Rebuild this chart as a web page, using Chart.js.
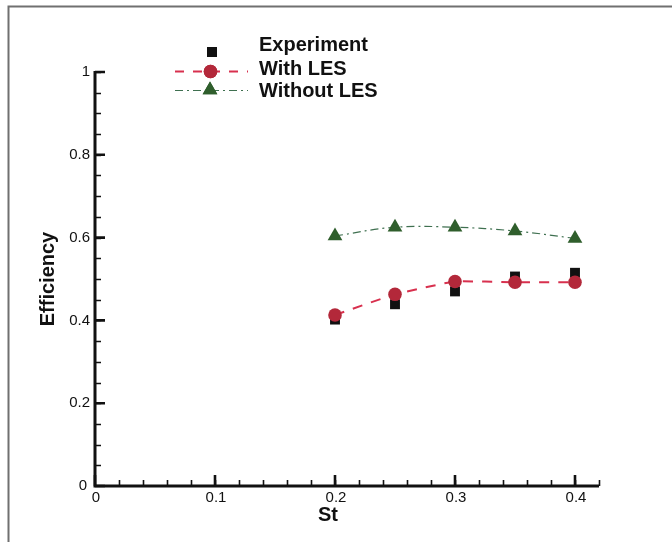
<!DOCTYPE html>
<html lang="en">
<head>
    <meta charset="UTF-8">
    <title>Efficiency vs St</title>
    <script src="https://cdn.jsdelivr.net/npm/chart.js"></script>
    <style>
        html, body { margin: 0; padding: 0; background: #fff; }
        #wrap { width: 672px; height: 542px; }
    </style>
</head>
<body>
    <div id="wrap"><canvas id="effChart" width="672" height="542"></canvas></div>
    <script>
        // Strouhal numbers and efficiency values
        const stValues = [0.2, 0.25, 0.3, 0.35, 0.4];
        const experiment = [0.402, 0.439, 0.470, 0.506, 0.515];
        const withLES = [0.413, 0.463, 0.494, 0.492, 0.492];
        const withoutLES = [0.604, 0.625, 0.625, 0.616, 0.598];

        const xMajorTicks = [0, 0.1, 0.2, 0.3, 0.4];
        const xMinorStep = 0.02;
        const yMajorTicks = [0, 0.2, 0.4, 0.6, 0.8, 1];
        const yMinorStep = 0.05;

        const RED = '#d8304e';
        const RED_FILL = '#b3283a';
        const GREEN_LINE = '#3f7050';
        const GREEN_FILL = '#2f5e2c';
        const FONT = '"Liberation Sans", Arial, sans-serif';

        function toPoints(ys) {
            return stValues.map((x, i) => ({ x: x, y: ys[i] }));
        }

        // axes with inward ticks, labels, titles, legend and outer frame
        const plotDecor = {
            id: 'plotDecor',
            afterDraw(chart) {
                const ctx = chart.ctx;
                const xs = chart.scales.x;
                const ys = chart.scales.y;
                const x0 = xs.getPixelForValue(0);
                const y0 = ys.getPixelForValue(0);
                ctx.save();

                // frame
                ctx.strokeStyle = '#707070';
                ctx.lineWidth = 2;
                ctx.beginPath();
                ctx.moveTo(8.5, 542);
                ctx.lineTo(8.5, 6.5);
                ctx.lineTo(672, 6.5);
                ctx.stroke();

                ctx.strokeStyle = '#111';
                ctx.lineCap = 'butt';

                // minor ticks
                ctx.lineWidth = 1.6;
                ctx.beginPath();
                for (let v = xMinorStep; v <= 0.42 + 1e-9; v += xMinorStep) {
                    const px = Math.round(xs.getPixelForValue(v)) + 0.5;
                    ctx.moveTo(px, y0);
                    ctx.lineTo(px, y0 - 6);
                }
                for (let v = yMinorStep; v <= 1 + 1e-9; v += yMinorStep) {
                    const py = Math.round(ys.getPixelForValue(v)) + 0.5;
                    ctx.moveTo(x0, py);
                    ctx.lineTo(x0 + 6, py);
                }
                ctx.stroke();

                // major ticks
                ctx.lineWidth = 2.6;
                ctx.beginPath();
                xMajorTicks.forEach(v => {
                    const px = xs.getPixelForValue(v);
                    ctx.moveTo(px, y0);
                    ctx.lineTo(px, y0 - 11);
                });
                yMajorTicks.forEach(v => {
                    const py = ys.getPixelForValue(v);
                    ctx.moveTo(x0, py);
                    ctx.lineTo(x0 + 10, py);
                });
                ctx.stroke();

                // axis lines
                ctx.lineWidth = 3;
                ctx.beginPath();
                ctx.moveTo(x0, ys.getPixelForValue(1) - 1);
                ctx.lineTo(x0, y0);
                ctx.lineTo(xs.getPixelForValue(0.42), y0);
                ctx.stroke();

                // tick labels
                ctx.fillStyle = '#111';
                ctx.font = '15px ' + FONT;
                ctx.textAlign = 'center';
                ctx.textBaseline = 'middle';
                xMajorTicks.forEach(v => {
                    ctx.fillText(String(v), xs.getPixelForValue(v) + 1, y0 + 12);
                });
                ctx.textAlign = 'right';
                yMajorTicks.forEach(v => {
                    ctx.fillText(String(v), x0 - (v === 0 ? 8 : 5), ys.getPixelForValue(v));
                });

                // axis titles
                ctx.font = 'bold 20px ' + FONT;
                ctx.textAlign = 'center';
                ctx.fillText('St', 328, 515);
                ctx.save();
                ctx.translate(48, 279);
                ctx.rotate(-Math.PI / 2);
                ctx.fillText('Efficiency', 0, 0);
                ctx.restore();

                // legend
                ctx.lineWidth = 2;
                ctx.strokeStyle = RED;
                ctx.setLineDash([9, 9]);
                ctx.beginPath();
                ctx.moveTo(175, 71.5);
                ctx.lineTo(248, 71.5);
                ctx.stroke();

                ctx.lineWidth = 1.2;
                ctx.strokeStyle = GREEN_LINE;
                ctx.setLineDash([8, 4, 2, 4]);
                ctx.beginPath();
                ctx.moveTo(175, 90.5);
                ctx.lineTo(248, 90.5);
                ctx.stroke();
                ctx.setLineDash([]);

                Chart.helpers.drawPoint(ctx, { pointStyle: 'rect', radius: 7, borderWidth: 0 }, 212, 52);
                ctx.fillStyle = '#111';
                ctx.fill();

                ctx.fillStyle = RED_FILL;
                Chart.helpers.drawPoint(ctx, { pointStyle: 'circle', radius: 6.8, borderWidth: 0 }, 210.5, 71.5);
                ctx.fill();

                ctx.fillStyle = GREEN_FILL;
                Chart.helpers.drawPoint(ctx, { pointStyle: 'triangle', radius: 8.5, borderWidth: 0 }, 210, 90);
                ctx.fill();

                ctx.fillStyle = '#111';
                ctx.font = 'bold 20px ' + FONT;
                ctx.textAlign = 'left';
                ctx.textBaseline = 'middle';
                ctx.fillText('Experiment', 259, 45);
                ctx.fillText('With LES', 259, 69);
                ctx.fillText('Without LES', 259, 91);

                ctx.restore();
            }
        };

        const ctx = document.getElementById('effChart').getContext('2d');
        const effChart = new Chart(ctx, {
            type: 'line',
            data: {
                datasets: [
                    {
                        label: 'Experiment',
                        data: toPoints(experiment),
                        showLine: false,
                        pointStyle: 'rect',
                        pointRadius: 7,
                        pointBorderWidth: 0,
                        pointBackgroundColor: '#111',
                        order: 3
                    },
                    {
                        label: 'With LES',
                        data: toPoints(withLES),
                        borderColor: RED,
                        borderWidth: 2,
                        borderDash: [10, 9],
                        tension: 0.12,
                        pointStyle: 'circle',
                        pointRadius: 6.8,
                        pointBorderWidth: 0,
                        pointBackgroundColor: RED_FILL,
                        order: 1
                    },
                    {
                        label: 'Without LES',
                        data: toPoints(withoutLES),
                        borderColor: GREEN_LINE,
                        borderWidth: 1.2,
                        borderDash: [8, 4, 2, 4],
                        tension: 0.4,
                        pointStyle: 'triangle',
                        pointRadius: 8.5,
                        pointBorderWidth: 0,
                        pointBackgroundColor: GREEN_FILL,
                        order: 2
                    }
                ]
            },
            options: {
                responsive: false,
                animation: false,
                maintainAspectRatio: false,
                layout: {
                    padding: { left: 95, right: 73, top: 72, bottom: 56 }
                },
                scales: {
                    x: { type: 'linear', min: 0, max: 0.42, display: false },
                    y: { type: 'linear', min: 0, max: 1, display: false }
                },
                plugins: {
                    legend: { display: false },
                    tooltip: { enabled: false }
                },
                clip: false
            },
            plugins: [plotDecor]
        });
    </script>
</body>
</html>
